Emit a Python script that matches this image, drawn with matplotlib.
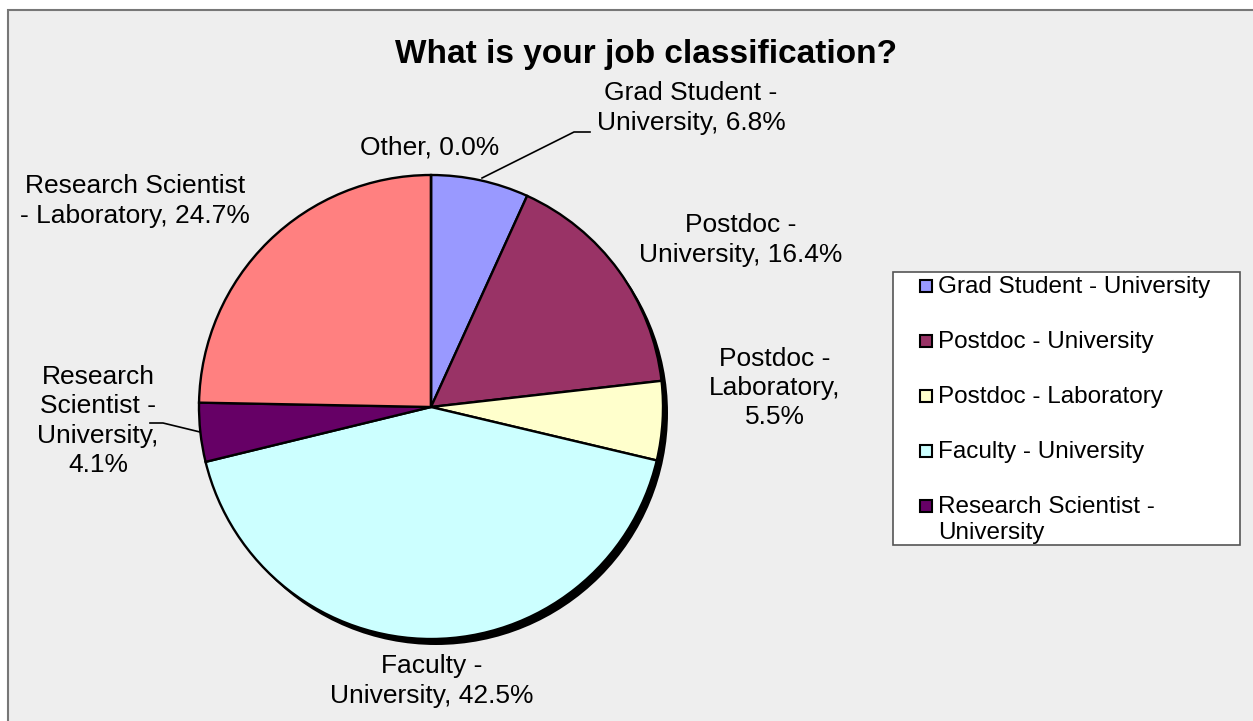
import matplotlib.pyplot as plt
from matplotlib.patches import Rectangle, Circle

plt.rcParams['font.family'] = ['Liberation Sans', 'DejaVu Sans']

# Survey answers, in the order they go round the pie (clockwise from 12 o'clock)
categories = ['Grad Student - University', 'Postdoc - University', 'Postdoc - Laboratory',
              'Faculty - University', 'Research Scientist - University',
              'Research Scientist - Laboratory', 'Other']
percents = [6.8, 16.4, 5.5, 42.5, 4.1, 24.7, 0.0]
colors = ['#9999FF', '#993366', '#FFFFCC', '#CCFFFF', '#660066', '#FF8080', '#FFFFFF']

# data label text, with the line breaks used on the chart
label_fmt = ['Grad Student -\nUniversity, {:.1f}%',
             'Postdoc -\nUniversity, {:.1f}%',
             'Postdoc -\nLaboratory,\n{:.1f}%',
             'Faculty -\nUniversity, {:.1f}%',
             'Research\nScientist -\nUniversity,\n{:.1f}%',
             'Research Scientist\n- Laboratory, {:.1f}%',
             'Other, {:.1f}%']
# the legend only has room for the first five entries
legend_labels = ['Grad Student - University', 'Postdoc - University', 'Postdoc - Laboratory',
                 'Faculty - University', 'Research Scientist -\nUniversity']

title = 'What is your job classification?'

# layout in pixels (axes spans the whole figure, y runs downward)
W, H = 1253, 721
center = (431, 407)
radius = 232
label_pos = [(691, 108), (741, 240), (775, 388), (432, 681), (98, 421), (135, 201), (430, 147)]

fig = plt.figure(figsize=(W / 100, H / 100), dpi=100, facecolor='white')
ax = fig.add_axes([0, 0, 1, 1])

# chart area: grey fill with a frame on the top and left
ax.add_patch(Rectangle((7.5, 9.5), W, H, facecolor='#EEEEEE', edgecolor='#777777',
                       linewidth=1.5, zorder=0))

# drop shadow behind the pie
ax.add_patch(Circle((center[0] + 5, center[1] + 6), radius, facecolor='black',
                    edgecolor='none', zorder=1))

# y axis is inverted, so counterclock=True from -90 goes clockwise from the top
wedges, _ = ax.pie(percents, colors=colors, startangle=-90, counterclock=True,
                   center=center, radius=radius, frame=True,
                   wedgeprops=dict(edgecolor='black', linewidth=1.7, zorder=2))

for fmt, v, (x, y) in zip(label_fmt, percents, label_pos):
    ax.text(x, y, fmt.format(v), ha='center', va='center', fontsize=19,
            linespacing=1.27, color='black', zorder=4)

# leader lines
ax.plot([482, 574, 590], [178, 132, 132], color='black', lw=1.2, zorder=3)
ax.plot([150, 163, 200], [423, 423, 432], color='black', lw=1.2, zorder=3)

ax.text(646, 55, title, ha='center', va='center', fontsize=24, fontweight='bold')

# legend box
ax.add_patch(Rectangle((892.5, 271.5), 347.5, 273.5, facecolor='white',
                       edgecolor='#555555', linewidth=1.2, zorder=3))
for i, lbl in enumerate(legend_labels):
    y = 286 + i * 55
    ax.add_patch(Rectangle((920, y - 6), 12, 12, facecolor=wedges[i].get_facecolor(),
                           edgecolor='black', linewidth=1.5, zorder=4))
    ax.text(938, y - 10, lbl, ha='left', va='top', fontsize=17.5,
            linespacing=1.22, zorder=4)

ax.set_xlim(0, W)
ax.set_ylim(H, 0)
ax.set_aspect('equal')
ax.axis('off')

fig.savefig('out.png', dpi=100, facecolor='white')
